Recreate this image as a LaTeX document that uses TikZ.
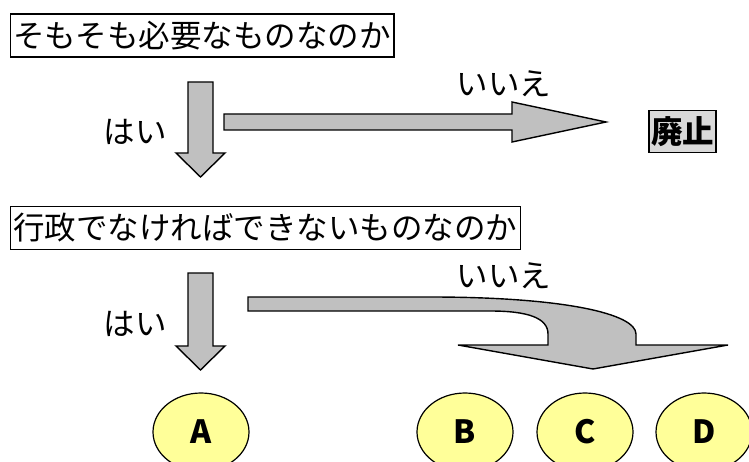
\documentclass[tikz,border=0pt]{standalone}
\usepackage{fontspec}
\newfontfamily\jp{Noto Sans CJK JP}
\usetikzlibrary{shapes.geometric}
\definecolor{arrowgray}{HTML}{C0C0C0}
\definecolor{boxgray}{HTML}{D9D9D9}
\definecolor{lightyellow}{HTML}{FFFF99}
\tikzset{
  qbox/.style={draw=black, line width=1.8pt, anchor=west, inner xsep=3pt, inner ysep=0pt,
    minimum height=43pt, font=\jp\fontsize{31.5}{36}\selectfont},
  lbl/.style={font=\jp\fontsize{31.5}{36}\selectfont, inner sep=0pt},
  blockarrow/.style={draw=black, line width=1.4pt, fill=arrowgray, line join=miter},
  endbox/.style={draw=black, line width=1.6pt, fill=boxgray, inner xsep=2pt, inner ysep=0pt,
    minimum height=42pt, font=\jp\bfseries\fontsize{31.5}{36}\selectfont},
  choice/.style={ellipse, draw=black, line width=1.2pt, fill=lightyellow, minimum width=96pt,
    minimum height=78pt, inner sep=0pt, font=\jp\bfseries\fontsize{32}{36}\selectfont}
}
\begin{document}
\begin{tikzpicture}[x=1pt,y=-1pt]
\useasboundingbox (0,0) rectangle (749,462);
% question boxes
\node[qbox] (q1) at (9.5,35.5) {そもそも必要なものなのか};
\node[qbox] (q2) at (9.5,228) {行政でなければできないものなのか};
% labels
\node[lbl] (yes1) at (135,132) {はい};
\node[lbl] (no1) at (504,84) {いいえ};
\node[lbl] (yes2) at (135,324) {はい};
\node[lbl] (no2) at (504,276) {いいえ};
% end box
\node[endbox] (abolish) at (682.5,131.5) {廃止};
% down arrows
\draw[blockarrow] (188,82) -- (213,82) -- (213,153) -- (225,153) -- (200.5,177) -- (176,153) -- (188,153) -- cycle;
\draw[blockarrow] (188,273) -- (213,273) -- (213,346) -- (225,346) -- (200.5,370) -- (176,346) -- (188,346) -- cycle;
% right arrow
\draw[blockarrow] (224,114) -- (512,114) -- (512,102) -- (606,122) -- (512,142) -- (512,130) -- (224,130) -- cycle;
% curved arrow
\draw[blockarrow] (248,297) -- (430,297) .. controls (565,297) and (636,314) .. (636,334) -- (636,345) -- (728,345) -- (593,369) -- (458,345) -- (548,345) -- (548,334) .. controls (548,318) and (528,311) .. (490,311) -- (248,311) -- cycle;
% options
\node[choice] (A) at (201,432) {A};
\node[choice] (B) at (465,432) {B};
\node[choice] (C) at (585,432) {C};
\node[choice] (D) at (704,432) {D};
\end{tikzpicture}
\end{document}
